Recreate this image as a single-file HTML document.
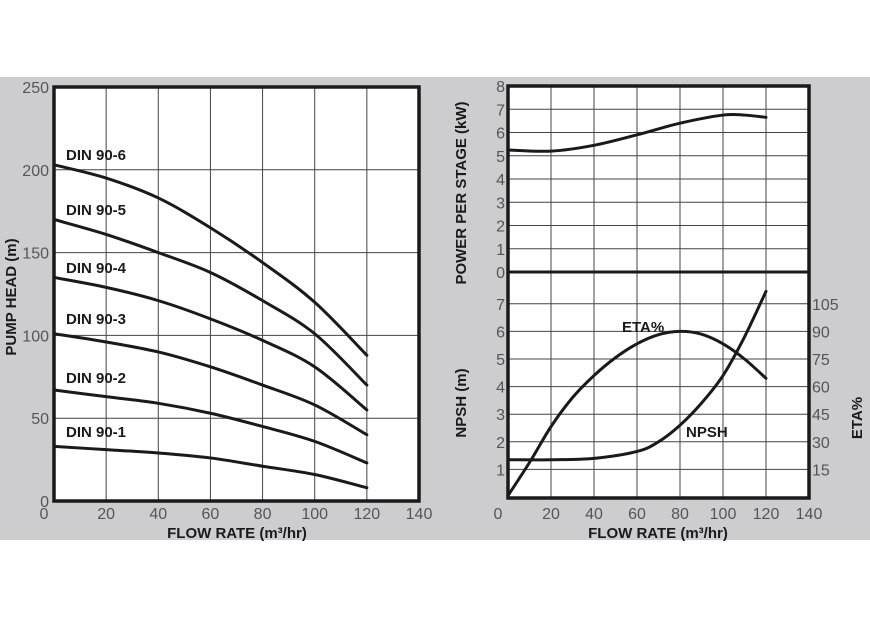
<!DOCTYPE html>
<html><head><meta charset="utf-8"><style>
html,body{margin:0;padding:0;background:#fff;}
svg{display:block;}
text{font-family:"Liberation Sans",sans-serif;}
.t{fill:#555;font-size:16px;}
.b{fill:#1a1a1a;font-weight:bold;font-size:15px;}
.g{stroke:#444;stroke-width:1;fill:none;}
.c{stroke:#1a1a1a;stroke-width:3;fill:none;stroke-linecap:round;stroke-linejoin:round;}
</style></head><body>
<svg id="s" width="870" height="619" viewBox="0 0 870 619" xmlns="http://www.w3.org/2000/svg">
<rect x="0" y="77" width="870" height="463" fill="#cdcdcf"/>
<rect x="54" y="87" width="365" height="414" fill="#fff"/>
<rect x="508" y="86" width="301" height="412" fill="#fff"/>
<g id="grid"></g>
<g id="curves"></g>
<rect x="54" y="87" width="365" height="414" fill="none" stroke="#1a1a1a" stroke-width="3.5"/>
<rect x="508" y="86" width="301" height="412" fill="none" stroke="#1a1a1a" stroke-width="3.5"/>
<line x1="508" y1="272" x2="809" y2="272" stroke="#1a1a1a" stroke-width="3"/>
<g id="labels"></g>
<text class="b" x="66" y="160">DIN 90-6</text>
<text class="b" x="66" y="215">DIN 90-5</text>
<text class="b" x="66" y="273">DIN 90-4</text>
<text class="b" x="66" y="324">DIN 90-3</text>
<text class="b" x="66" y="383">DIN 90-2</text>
<text class="b" x="66" y="437">DIN 90-1</text>
<text class="b" x="622" y="332">ETA%</text>
<text class="b" x="686" y="437">NPSH</text>
<text class="b" x="237" y="538" text-anchor="middle">FLOW RATE (m³/hr)</text>
<text class="b" x="658" y="538" text-anchor="middle">FLOW RATE (m³/hr)</text>
<text class="b" transform="translate(16,297) rotate(-90)" text-anchor="middle">PUMP HEAD (m)</text>
<text class="b" transform="translate(466,193) rotate(-90)" text-anchor="middle">POWER PER STAGE (kW)</text>
<text class="b" transform="translate(466,403) rotate(-90)" text-anchor="middle">NPSH (m)</text>
<text class="b" transform="translate(862,418) rotate(-90)" text-anchor="middle">ETA%</text>
</svg>
<script>
var NS="http://www.w3.org/2000/svg";
function el(p,t,a,txt){var e=document.createElementNS(NS,t);for(var k in a)e.setAttribute(k,a[k]);if(txt!==undefined)e.textContent=txt;document.getElementById(p).appendChild(e);return e;}
function cr(pts){var d="M"+pts[0][0]+","+pts[0][1];for(var i=0;i<pts.length-1;i++){var p0=pts[i-1]||pts[i],p1=pts[i],p2=pts[i+1],p3=pts[i+2]||p2;
d+=" C"+(p1[0]+(p2[0]-p0[0])/6)+","+(p1[1]+(p2[1]-p0[1])/6)+" "+(p2[0]-(p3[0]-p1[0])/6)+","+(p2[1]-(p3[1]-p1[1])/6)+" "+p2[0]+","+p2[1];}return d;}
var LX=function(v){return 54+v*365/140},LY=function(v){return 501-v*414/250};
for(var i=1;i<7;i++)el("grid","line",{x1:LX(i*20),y1:87,x2:LX(i*20),y2:501,"class":"g"});
for(var i=1;i<5;i++)el("grid","line",{x1:54,y1:LY(i*50),x2:419,y2:LY(i*50),"class":"g"});
for(var i=0;i<=5;i++)el("labels","text",{x:49,y:LY(i*50)+6,"class":"t","text-anchor":"end"},String(i*50));
el("labels","text",{x:44,y:519,"class":"t","text-anchor":"middle"},"0");
for(var i=1;i<=7;i++)el("labels","text",{x:LX(i*20),y:519,"class":"t","text-anchor":"middle"},String(i*20));
var L=[[203,195,183,165,144,120,88],[170,161,150,138,121,101,70],[135,129,121,110,97,81,55],[101,96,90,81,70,58,40],[67,63,59,53,45,36,23],[33,31,29,26,21,16,8]];
var xs=[0,20,40,60,80,100,120];
L.forEach(function(s){el("curves","path",{d:cr(s.map(function(v,i){return[LX(xs[i]),LY(v)]})),"class":"c"});});
var RX=function(v){return 508+v*43/20},PY=function(v){return 272-v*23.25},NY=function(v){return 497-v*27.6};
for(var i=1;i<7;i++)el("grid","line",{x1:RX(i*20),y1:86,x2:RX(i*20),y2:498,"class":"g"});
for(var i=1;i<8;i++)el("grid","line",{x1:508,y1:PY(i),x2:809,y2:PY(i),"class":"g"});
for(var i=1;i<8;i++)el("grid","line",{x1:508,y1:NY(i),x2:809,y2:NY(i),"class":"g"});
for(var i=0;i<=8;i++)el("labels","text",{x:505,y:PY(i)+6,"class":"t","text-anchor":"end"},String(i));
for(var i=1;i<=7;i++)el("labels","text",{x:505,y:NY(i)+6,"class":"t","text-anchor":"end"},String(i));
for(var i=1;i<=7;i++)el("labels","text",{x:812,y:NY(i)+6,"class":"t"},String(i*15));
el("labels","text",{x:498,y:519,"class":"t","text-anchor":"middle"},"0");
for(var i=1;i<=7;i++)el("labels","text",{x:RX(i*20),y:519,"class":"t","text-anchor":"middle"},String(i*20));
var P=[[0,5.25],[20,5.2],[40,5.45],[60,5.9],[80,6.4],[100,6.75],[110,6.75],[120,6.65]];
el("curves","path",{d:cr(P.map(function(p){return[RX(p[0]),PY(p[1])]})),"class":"c"});
var E=[[0,0.05],[10,1.25],[20,2.55],[30,3.6],[40,4.4],[50,5.05],[60,5.55],[70,5.88],[80,6.0],[90,5.9],[100,5.55],[110,5.0],[120,4.3]];
el("curves","path",{d:cr(E.map(function(p){return[RX(p[0]),NY(p[1])]})),"class":"c"});
var N=[[0,1.35],[20,1.35],[40,1.4],[60,1.65],[70,2.0],[80,2.6],[90,3.4],[100,4.4],[110,5.8],[120,7.45]];
el("curves","path",{d:cr(N.map(function(p){return[RX(p[0]),NY(p[1])]})),"class":"c"});
</script>
</body></html>
